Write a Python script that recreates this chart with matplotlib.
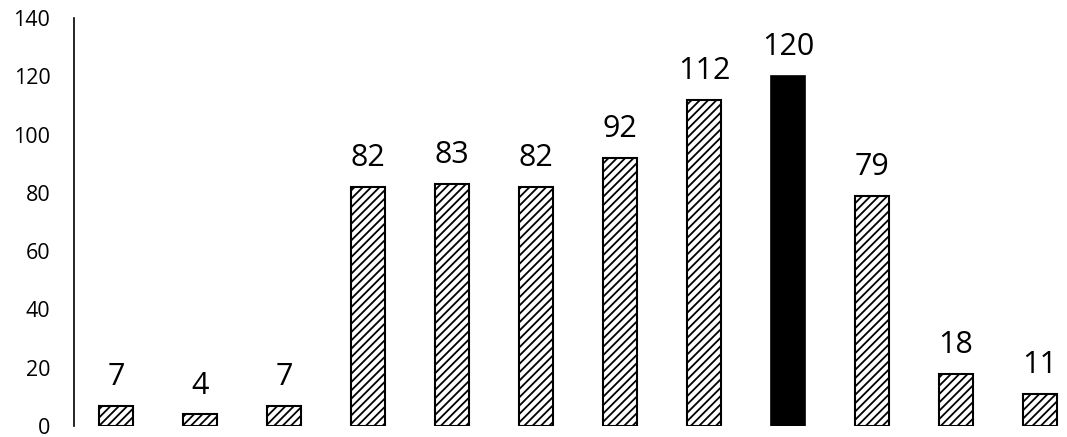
import matplotlib.pyplot as plt
import matplotlib as mpl

# data
categories = list(range(12))
values = [7, 4, 7, 82, 83, 82, 92, 112, 120, 79, 18, 11]
highlight = 8   # the solid black bar
yticks = [0, 20, 40, 60, 80, 100, 120, 140]

mpl.rcParams['font.family'] = ['Open Sans', 'DejaVu Sans']
mpl.rcParams['hatch.linewidth'] = 1.3

fig = plt.figure(figsize=(10.67, 4.37), dpi=100)
ax = fig.add_axes([74 / 1067, 11 / 437, (1067 - 74) / 1067, 408 / 437])

for i, v in zip(categories, values):
    if i == highlight:
        ax.bar(i, v, width=0.41, color='black', edgecolor='black', linewidth=1.2)
    else:
        ax.bar(i, v, width=0.41, color='white', edgecolor='black', hatch='////', linewidth=1.5)
    ax.annotate(str(v), (i, v), xytext=(0, 15), textcoords='offset points',
                ha='center', va='baseline', fontsize=22)

ax.set_xlim(-0.5, 11.32)
ax.set_ylim(0, 140)
ax.set_yticks(yticks)
ax.set_yticklabels([str(t) for t in yticks], fontsize=15.5)
ax.tick_params(axis='y', length=0, pad=17)
ax.set_xticks([])
for s in ['top', 'right', 'bottom']:
    ax.spines[s].set_visible(False)
ax.spines['left'].set_linewidth(1.2)

fig.savefig('out.png', dpi=100)
